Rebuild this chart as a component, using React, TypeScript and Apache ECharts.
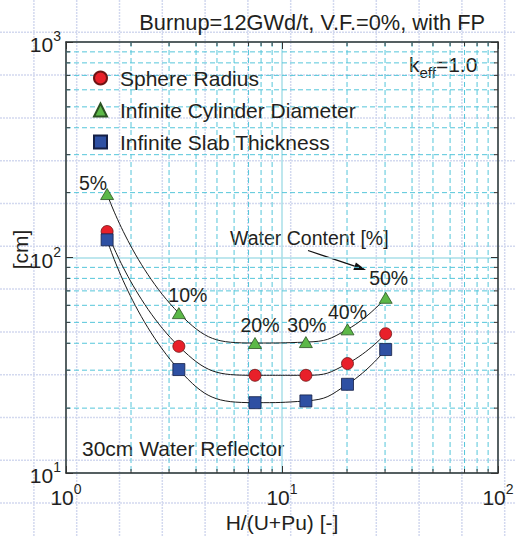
import React, { useEffect, useRef } from 'react';
import * as echarts from 'echarts';

const waterContent = ['5%', '10%', '20%', '30%', '40%', '50%'];
const hToHeavyMetal = [1.55, 3.33, 7.5, 12.9, 20.1, 30.2];
const sphereRadius = [132, 38.7, 28.4, 28.4, 32.2, 44.3];
const cylinderDiameter = [197, 55.2, 40.1, 40.5, 46.4, 65];
const slabThickness = [120.8, 30.2, 21.2, 21.6, 25.8, 37.4];
const xMinorTicks = [2, 3, 4, 5, 6, 7, 8, 9, 20, 30, 40, 50, 60, 70, 80, 90];
const yMinorTicks = [20, 30, 40, 50, 60, 70, 80, 90, 200, 300, 400, 500, 600, 700, 800, 900];
const labelOffsets = [[-14, 10], [9, 3], [5, 3], [1, 4], [0, 4], [3, 1]];

const FONT = 'Liberation Sans, Arial, Helvetica, sans-serif';
const TXT = '#231f20';
const AXIS = '#333333';

const pairs = (ys: number[]) => hToHeavyMetal.map((x, i) => [x, ys[i]]);

const powLabel = (v: number) => `{b|10}{s|${Math.round(Math.log10(v))}}`;
const powRich = {
  b: { fontSize: 21, fontFamily: FONT, color: TXT, lineHeight: 26, verticalAlign: 'bottom' },
  s: { fontSize: 14, fontFamily: FONT, color: TXT, lineHeight: 14, verticalAlign: 'top' },
};

export default function App() {
  const ref = useRef<HTMLDivElement>(null);
  useEffect(() => {
    document.body.style.margin = '0';
    const chart = echarts.init(ref.current!, undefined, { renderer: 'svg' });

    const bg: any[] = [];
    for (let k = -1; k <= 10; k++) {
      const x = 76.7 + 42.8 * k;
      bg.push({ type: 'line', z: -10, silent: true, shape: { x1: x, y1: 0, x2: x, y2: 537 }, style: { stroke: '#d3d9ef', lineWidth: 1.5, lineDash: [2, 1] } });
    }
    for (let k = 0; k <= 11; k++) {
      const y = 32.3 + 42.8 * k;
      bg.push({ type: 'line', z: -10, silent: true, shape: { x1: 0, y1: y, x2: 515, y2: y }, style: { stroke: '#d3d9ef', lineWidth: 1.5, lineDash: [2, 1] } });
    }

    const ax1 = 308, ay1 = 250.5, ax2 = 366, ay2 = 270;
    const dx = ax2 - ax1, dy = ay2 - ay1, dl = Math.hypot(dx, dy);
    const ux = dx / dl, uy = dy / dl, nx = -uy, ny = ux;
    const bx = ax2 - 12 * ux, by = ay2 - 12 * uy;

    const tickStyle = { stroke: AXIS, lineWidth: 1 };
    const minorGridStyle = { stroke: '#55c6da', lineWidth: 1, lineDash: [5, 3] };

    const axisCommon = (isX: boolean) => ({
      type: 'log',
      logBase: 10,
      min: isX ? 1 : 10,
      max: isX ? 100 : 1000,
      nameMoveOverlap: false,
      axisLine: { show: true, onZero: false, lineStyle: { color: AXIS, width: 1.5 } },
      axisTick: { show: true, inside: true, length: 7, lineStyle: { color: AXIS, width: 1 } },
      minorTick: { show: false },
    });

    const option: any = {
      animation: false,
      grid: { left: 66, top: 42, width: 432, height: 431, containLabel: false, outerBoundsMode: 'none' },
      xAxis: [
        {
          ...axisCommon(true),
          position: 'bottom',
          axisLabel: { margin: 9, formatter: powLabel, rich: powRich },
          splitLine: { show: true, lineStyle: { color: '#a9dfe9', width: 1.5 } },
          name: 'H/(U+Pu) [-]',
          nameLocation: 'middle',
          nameGap: 39,
          nameTextStyle: { fontSize: 21, fontFamily: FONT, color: TXT },
        },
        {
          ...axisCommon(true),
          position: 'top',
          axisLabel: { show: false },
          splitLine: { show: false },
        },
      ],
      yAxis: [
        {
          ...axisCommon(false),
          position: 'left',
          axisLabel: { margin: 5, formatter: powLabel, rich: powRich },
          splitLine: { show: true, lineStyle: { color: '#a9dfe9', width: 1.5 } },
          name: '[cm]',
          nameLocation: 'middle',
          nameGap: 35,
          nameRotate: 90,
          nameTextStyle: { fontSize: 21, fontFamily: FONT, color: TXT, padding: [0, 0, 0, 16] },
        },
        {
          ...axisCommon(false),
          position: 'right',
          axisLabel: { show: false },
          splitLine: { show: false },
        },
      ],
      legend: {
        orient: 'vertical',
        left: 93,
        top: 66,
        padding: 0,
        itemWidth: 13,
        itemHeight: 13,
        itemGap: 8,
        textStyle: { fontSize: 21, fontFamily: FONT, color: TXT, lineHeight: 24, padding: [0, 0, 0, 8] },
        data: ['Sphere Radius', 'Infinite Cylinder Diameter', 'Infinite Slab Thickness'],
      },
      graphic: [
        ...bg,
        { type: 'text', x: 485, y: 22, style: { text: 'Burnup=12GWd/t, V.F.=0%, with FP', font: `21.8px ${FONT}`, fill: TXT, align: 'right', verticalAlign: 'middle' } },
        {
          type: 'text', x: 409, y: 67,
          style: {
            text: '{k|k}{e|eff}{k|=1.0}',
            align: 'left', verticalAlign: 'middle',
            rich: {
              k: { fontSize: 21, fontFamily: FONT, fill: TXT, lineHeight: 26, verticalAlign: 'top' },
              e: { fontSize: 15, fontFamily: FONT, fill: TXT, lineHeight: 15, verticalAlign: 'bottom' },
            },
          },
        },
        { type: 'text', x: 230, y: 238, style: { text: 'Water Content [%]', font: `19.5px ${FONT}`, fill: TXT, align: 'left', verticalAlign: 'middle' } },
        { type: 'text', x: 82, y: 448, style: { text: '30cm Water Reflector', font: `21px ${FONT}`, fill: TXT, align: 'left', verticalAlign: 'middle' } },
        { type: 'line', shape: { x1: ax1, y1: ay1, x2: bx, y2: by }, style: { stroke: '#111', lineWidth: 1.3 } },
        { type: 'polygon', shape: { points: [[ax2, ay2], [bx + 4 * nx, by + 4 * ny], [bx - 4 * nx, by - 4 * ny]] }, style: { fill: '#111' } },
      ],
      series: [
        {
          type: 'custom',
          silent: true,
          clip: false,
          z: 1,
          data: xMinorTicks.map((v) => [v, 10]),
          renderItem: (params: any, api: any) => {
            const cs = params.coordSys;
            const p = api.coord([api.value(0), api.value(1)]);
            const top = cs.y, bot = cs.y + cs.height;
            return {
              type: 'group',
              children: [
                { type: 'line', shape: { x1: p[0], y1: top, x2: p[0], y2: bot }, style: minorGridStyle },
                { type: 'line', shape: { x1: p[0], y1: bot, x2: p[0], y2: bot - 4 }, style: tickStyle },
                { type: 'line', shape: { x1: p[0], y1: top, x2: p[0], y2: top + 4 }, style: tickStyle },
              ],
            };
          },
        },
        {
          type: 'custom',
          silent: true,
          clip: false,
          z: 1,
          data: yMinorTicks.map((v) => [1, v]),
          renderItem: (params: any, api: any) => {
            const cs = params.coordSys;
            const p = api.coord([api.value(0), api.value(1)]);
            const l = cs.x, r = cs.x + cs.width;
            return {
              type: 'group',
              children: [
                { type: 'line', shape: { x1: l, y1: p[1], x2: r, y2: p[1] }, style: minorGridStyle },
                { type: 'line', shape: { x1: l, y1: p[1], x2: l + 4, y2: p[1] }, style: tickStyle },
                { type: 'line', shape: { x1: r, y1: p[1], x2: r - 4, y2: p[1] }, style: tickStyle },
              ],
            };
          },
        },
        ...[sphereRadius, cylinderDiameter, slabThickness].map((ys) => ({
          type: 'line',
          data: pairs(ys),
          smooth: 0.5,
          showSymbol: false,
          silent: true,
          z: 3,
          lineStyle: { color: '#1a1a1a', width: 1 },
        })),
        {
          name: 'Sphere Radius',
          type: 'scatter',
          z: 5,
          symbol: 'circle',
          symbolSize: 12,
          itemStyle: { color: '#e8202a', borderColor: '#6d1414', borderWidth: 0.8, opacity: 1 },
          data: pairs(sphereRadius),
        },
        {
          name: 'Infinite Cylinder Diameter',
          type: 'scatter',
          z: 5,
          symbol: 'triangle',
          symbolSize: [13, 11],
          itemStyle: { color: '#5cb848', borderColor: '#2a5222', borderWidth: 0.8, opacity: 1 },
          data: pairs(cylinderDiameter).map((d, i) => ({
            value: d,
            label: {
              show: true,
              formatter: waterContent[i],
              position: 'top',
              offset: labelOffsets[i],
              fontSize: 19.5,
              fontFamily: FONT,
              color: TXT,
            },
          })),
        },
        {
          name: 'Infinite Slab Thickness',
          type: 'scatter',
          z: 5,
          symbol: 'rect',
          symbolSize: 12,
          itemStyle: { color: '#2e50a3', borderColor: '#141f45', borderWidth: 0.8, opacity: 1 },
          data: pairs(slabThickness),
        },
      ],
    };
    chart.setOption(option);
    return () => chart.dispose();
  }, []);
  return <div ref={ref} style={{ width: 515, height: 537 }} />;
}
